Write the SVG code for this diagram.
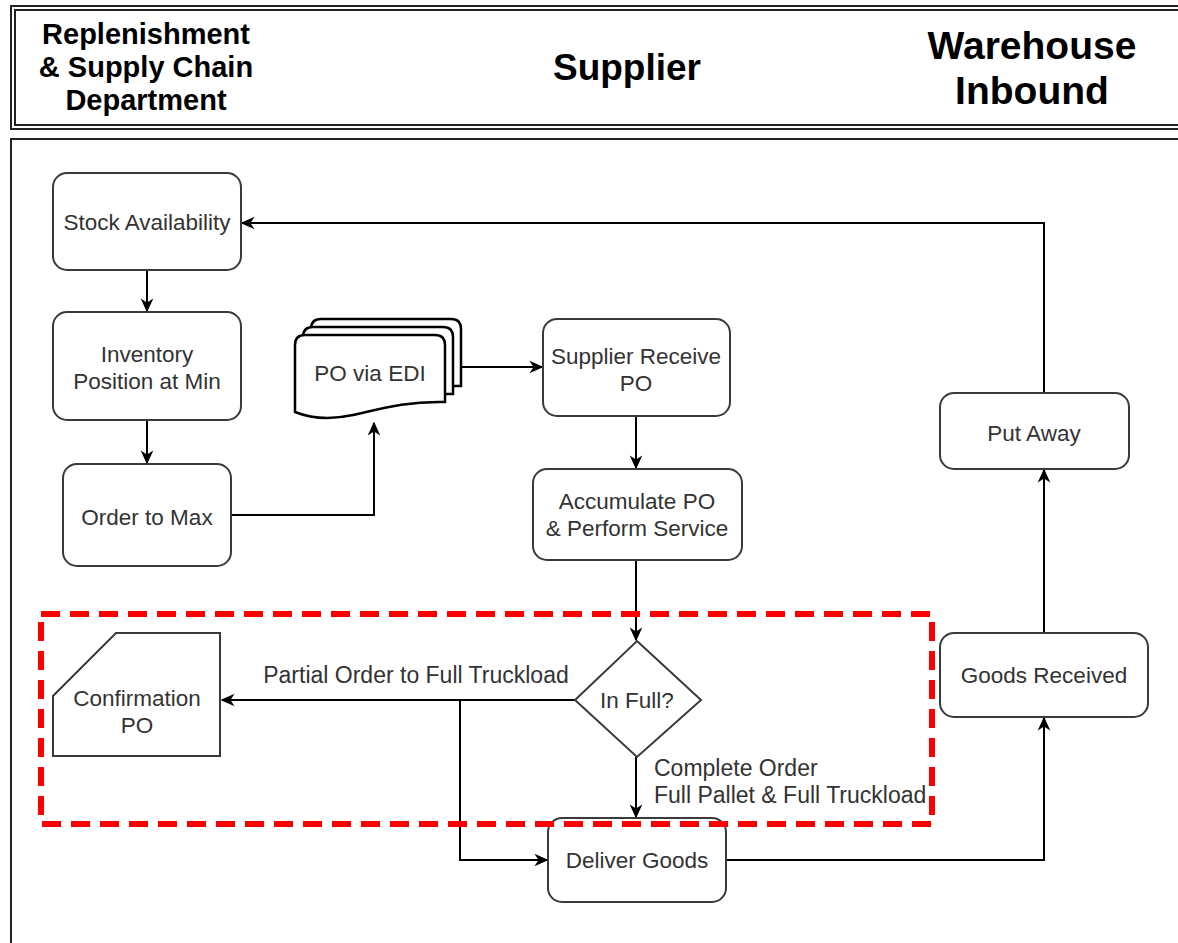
<svg xmlns="http://www.w3.org/2000/svg" width="1178" height="943" viewBox="0 0 1178 943">
<defs>
<style>
.node{fill:#fff;stroke:#3a3a3a;stroke-width:2}
.doc{fill:#fff;stroke:#000;stroke-width:2.5}
.t{font-family:"Liberation Sans",Arial,sans-serif;font-size:22.5px;fill:#333;text-anchor:middle}
.lbl{font-family:"Liberation Sans",Arial,sans-serif;font-size:23px;fill:#333}
.hd{font-family:"Liberation Sans",Arial,sans-serif;font-weight:bold;fill:#000;text-anchor:middle}
.e{fill:none;stroke:#000;stroke-width:2}
.frame{fill:none;stroke:#222;stroke-width:2}
</style>
<marker id="arr" viewBox="0 0 10 10" refX="9" refY="5" markerWidth="14" markerHeight="14" markerUnits="userSpaceOnUse" orient="auto">
<path d="M0,0.5 L10,5 L0,9.5 L3,5 Z" fill="#000"/>
</marker>
<path id="docshape" d="M0,10 Q0,0 10,0 L140,0 Q150,0 150,10 L150,67 C110,66 85,74 58,80 C35,85 15,83 0,77 Z"/>
</defs>
<rect width="1178" height="943" fill="#fff"/>
<g id="header">
<rect class="frame" x="11" y="6" width="1180" height="123"/>
<rect class="frame" x="15" y="10" width="1180" height="115"/>
<text class="hd" x="146" y="44" font-size="29">Replenishment</text>
<text class="hd" x="146" y="77" font-size="29">&amp; Supply Chain</text>
<text class="hd" x="146" y="110" font-size="29">Department</text>
<text class="hd" x="627" y="80" font-size="37">Supplier</text>
<text class="hd" x="1032" y="59" font-size="39">Warehouse</text>
<text class="hd" x="1032" y="104" font-size="39">Inbound</text>
</g>
<g id="lane">
<rect class="frame" x="11" y="139" width="1180" height="820"/>
</g>
<g id="connectors">
<path class="e" marker-end="url(#arr)" d="M147,270 L147,311"/>
<path class="e" marker-end="url(#arr)" d="M147,420 L147,463"/>
<path class="e" marker-end="url(#arr)" d="M231,515 L374,515 L374,423"/>
<path class="e" marker-end="url(#arr)" d="M460,367 L542,367"/>
<path class="e" marker-end="url(#arr)" d="M636,416 L636,468"/>
<path class="e" marker-end="url(#arr)" d="M636,560 L636,640"/>
<path class="e" marker-end="url(#arr)" d="M575,700 L222,700"/>
<path class="e" marker-end="url(#arr)" d="M460,700 L460,860 L547,860"/>
<path class="e" marker-end="url(#arr)" d="M636,757 L636,817"/>
<path class="e" marker-end="url(#arr)" d="M727,860 L1044,860 L1044,718"/>
<path class="e" marker-end="url(#arr)" d="M1044,632 L1044,470"/>
<path class="e" marker-end="url(#arr)" d="M1044,393 L1044,223 L242,223"/>
<text class="lbl" x="416" y="683" text-anchor="middle">Partial Order to Full Truckload</text>
<text class="lbl" x="654" y="776">Complete Order</text>
<text class="lbl" x="654" y="803">Full Pallet &amp; Full Truckload</text>
</g>
<g id="stock">
<rect class="node" x="53" y="173" width="188" height="97" rx="14"/>
<text class="t" x="147" y="230">Stock Availability</text>
</g>
<g id="inventory">
<rect class="node" x="53" y="312" width="188" height="108" rx="14"/>
<text class="t" x="147" y="362">Inventory</text>
<text class="t" x="147" y="389">Position at Min</text>
</g>
<g id="ordermax">
<rect class="node" x="63" y="464" width="168" height="102" rx="14"/>
<text class="t" x="147" y="525">Order to Max</text>
</g>
<g id="poedi">
<use href="#docshape" class="doc" x="311" y="319"/>
<use href="#docshape" class="doc" x="303" y="327"/>
<use href="#docshape" class="doc" x="295" y="335"/>
<text class="t" x="370" y="381">PO via EDI</text>
</g>
<g id="supplierreceive">
<rect class="node" x="543" y="319" width="187" height="97" rx="14"/>
<text class="t" x="636" y="364">Supplier Receive</text>
<text class="t" x="636" y="391">PO</text>
</g>
<g id="accumulate">
<rect class="node" x="533" y="469" width="209" height="91" rx="14"/>
<text class="t" x="637" y="509">Accumulate PO</text>
<text class="t" x="637" y="536">&amp; Perform Service</text>
</g>
<g id="infull">
<path class="node" d="M637,641 L701,700 L637,757 L575,700 Z" stroke-width="1.5"/>
<text class="t" x="637" y="708">In Full?</text>
</g>
<g id="confirmation">
<path class="node" d="M116,633 L220,633 L220,756 L53,756 L53,696 Z" stroke-width="1.5"/>
<text class="t" x="137" y="706">Confirmation</text>
<text class="t" x="137" y="733">PO</text>
</g>
<g id="deliver">
<rect class="node" x="548" y="818" width="178" height="84" rx="14"/>
<text class="t" x="637" y="868">Deliver Goods</text>
</g>
<g id="goodsreceived">
<rect class="node" x="940" y="633" width="208" height="84" rx="14"/>
<text class="t" x="1044" y="683">Goods Received</text>
</g>
<g id="putaway">
<rect class="node" x="940" y="393" width="189" height="76" rx="14"/>
<text class="t" x="1034" y="441">Put Away</text>
</g>
<g id="highlight">
<rect x="41" y="614" width="891" height="210" fill="none" stroke="#ff0000" stroke-width="6" stroke-dasharray="19 10"/>
</g>
</svg>
